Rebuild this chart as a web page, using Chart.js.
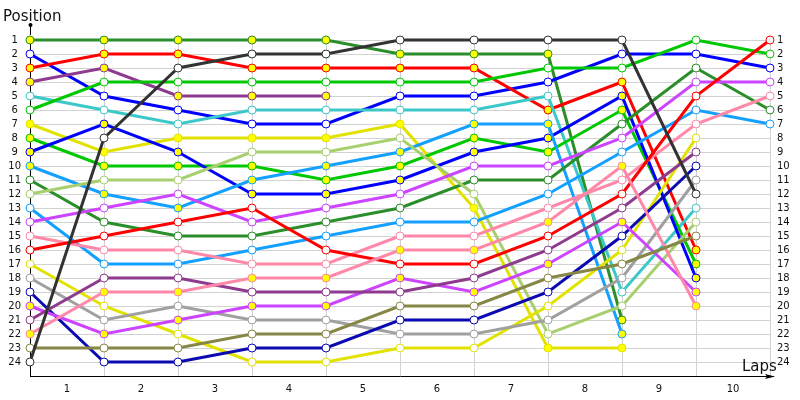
<!DOCTYPE html>
<html>
<head>
<meta charset="utf-8">
<script src="https://cdn.jsdelivr.net/npm/chart.js@4/dist/chart.umd.min.js"></script>
<style>
  html, body { margin: 0; padding: 0; background: #fff; }
</style>
</head>
<body>
<canvas id="chart" width="800" height="400"></canvas>
<script>
// column 0 is the grid, then the order after each lap
const laps = [0, 1, 2, 3, 4, 5, 6, 7, 8, 9, 10];
const lapLabels = ['1', '2', '3', '4', '5', '6', '7', '8', '9', '10'];
const positionLabels = ['1', '2', '3', '4', '5', '6', '7', '8', '9', '10', '11', '12',
  '13', '14', '15', '16', '17', '18', '19', '20', '21', '22', '23', '24'];

// positions per car, named by grid slot (short arrays = car dropped out)
const car01 = [1, 1, 1, 1, 1, 2, 2, 2, 21];
const car02 = [2, 5, 6, 7, 7, 5, 5, 4, 2, 2, 3];
const car03 = [3, 2, 2, 3, 3, 3, 3, 6, 4, 16];
const car04 = [4, 3, 5, 5, 5];
const car05 = [5, 6, 7, 6, 6, 6, 6, 5, 19, 13];
const car06 = [6, 4, 4, 4, 4, 4, 4, 3, 3, 1, 2];
const car07 = [7, 9, 8, 8, 8, 7, 13, 23, 23];
const car08 = [8, 10, 10, 10, 11, 10, 8, 9, 6, 17];
const car09 = [9, 7, 9, 12, 12, 11, 9, 8, 5, 18];
const car10 = [10, 12, 13, 11, 10, 9, 7, 7, 22];
const car11 = [11, 14, 15, 15, 14, 13, 11, 11, 7, 3, 6];
const car12 = [12, 11, 11, 9, 9, 8, 12, 22, 20, 14];
const car13 = [13, 17, 17, 16, 15, 14, 14, 12, 9, 6, 7];
const car14 = [14, 13, 12, 14, 13, 12, 10, 10, 8, 4, 4];
const car15 = [15, 16, 16, 17, 17, 15, 15, 13, 11, 7, 5];
const car16 = [16, 15, 14, 13, 16, 17, 17, 15, 12, 5, 1];
const car17 = [17, 20, 22, 24, 24, 23, 23, 20, 16, 8];
const car18 = [18, 21, 20, 21, 21, 22, 22, 21, 18, 11];
const car19 = [19, 24, 24, 23, 23, 21, 21, 19, 15, 10];
const car20 = [20, 22, 21, 20, 20, 18, 19, 17, 14, 19];
const car21 = [21, 18, 18, 19, 19, 19, 18, 16, 13, 9];
const car22 = [22, 19, 19, 18, 18, 16, 16, 14, 10, 20];
const car23 = [23, 23, 23, 22, 22, 20, 20, 18, 17, 15];
const car24 = [24, 8, 3, 2, 2, 1, 1, 1, 1, 12];

const cars = [car01, car02, car03, car04, car05, car06, car07, car08, car09, car10, car11, car12,
  car13, car14, car15, car16, car17, car18, car19, car20, car21, car22, car23, car24];

// line colour and marker fill for each car
const lineColors = ['#2a8f2a', '#0000ff', '#ff0000', '#8e3a8e', '#3cc8c8', '#00c800',
  '#e2e200', '#00c800', '#0000ff', '#14a0ff', '#2a8f2a', '#a8cf6e',
  '#14a0ff', '#cc44ff', '#ff88a8', '#ff0000', '#e2e200', '#a0a0a0',
  '#0a0ab0', '#cc44ff', '#8e3a8e', '#ff88a8', '#868646', '#333333'];
const markerFills = ['#ffff00', '#ffffff', '#ffff00', '#ffff00', '#ffffff', '#ffffff',
  '#ffff00', '#ffff00', '#ffff00', '#ffff00', '#ffffff', '#ffffff',
  '#ffffff', '#ffffff', '#ffffff', '#ffffff', '#ffffff', '#ffffff',
  '#ffffff', '#ffff00', '#ffffff', '#ffff00', '#ffffff', '#ffffff'];

const tickFont = { family: 'DejaVu Sans', size: 10 };
const gridColor = '#d2d2d2';

// later cars drawn on top (chart.js paints dataset 0 last)
const datasets = cars.map((arr, i) => ({
  data: arr.map((p, lap) => ({ x: laps[lap], y: p })),
  borderColor: lineColors[i],
  backgroundColor: lineColors[i],
  borderWidth: 3,
  pointRadius: 4,
  pointBorderWidth: 1,
  pointBorderColor: lineColors[i],
  pointBackgroundColor: markerFills[i],
  tension: 0,
  clip: false,
  yAxisID: 'y'
})).reverse();

// axis arrows and the two axis captions
const axisDecor = {
  id: 'axisDecor',
  afterDraw(chart) {
    const ctx = chart.ctx;
    const a = chart.chartArea;
    ctx.save();
    ctx.strokeStyle = '#000';
    ctx.fillStyle = '#000';
    ctx.lineWidth = 1;
    ctx.beginPath();
    ctx.moveTo(a.left + 0.5, a.top - 5);
    ctx.lineTo(a.left + 0.5, 25);
    ctx.moveTo(a.right, a.bottom + 0.5);
    ctx.lineTo(a.right + 4, a.bottom + 0.5);
    ctx.stroke();
    ctx.beginPath();
    ctx.arc(a.left + 0.5, 25, 2, 0, Math.PI * 2);
    ctx.fill();
    ctx.beginPath();
    ctx.moveTo(a.right + 5, a.bottom + 0.5);
    ctx.lineTo(a.right - 5, a.bottom - 2);
    ctx.lineTo(a.right - 3, a.bottom + 0.5);
    ctx.lineTo(a.right - 5, a.bottom + 3);
    ctx.closePath();
    ctx.fill();

    ctx.fillStyle = '#111';
    ctx.font = '15px "DejaVu Sans"';
    ctx.textBaseline = 'alphabetic';
    ctx.textAlign = 'left';
    ctx.fillText('Position', 3, 21);
    ctx.fillText('Laps', 742, 371);
    ctx.restore();
  }
};

new Chart(document.getElementById('chart'), {
  type: 'line',
  data: { datasets: datasets },
  plugins: [axisDecor],
  options: {
    responsive: false,
    animation: false,
    layout: { padding: { top: 40, left: 0, right: 0, bottom: 0 } },
    plugins: {
      legend: { display: false },
      tooltip: { enabled: false }
    },
    scales: {
      x: {
        type: 'linear',
        min: 0,
        max: 10,
        afterFit: s => { s.height = 24; },
        border: { color: '#000' },
        grid: {
          drawTicks: false,
          color: c => Math.abs(c.tick.value - Math.round(c.tick.value)) < 1e-6 ? gridColor : 'rgba(0,0,0,0)'
        },
        ticks: {
          stepSize: 0.5,
          autoSkip: false,
          maxRotation: 0,
          padding: 7,
          color: '#111',
          font: tickFont,
          callback: v => Math.abs(v - Math.round(v)) < 1e-6 ? '' : lapLabels[Math.floor(v)]
        }
      },
      y: {
        type: 'linear',
        position: 'left',
        reverse: true,
        min: 1,
        max: 25,
        afterFit: s => { s.width = 30; },
        border: { color: '#000' },
        grid: {
          drawTicks: false,
          color: c => c.tick.value <= 24 ? gridColor : 'rgba(0,0,0,0)'
        },
        ticks: {
          stepSize: 1,
          autoSkip: false,
          padding: 9,
          crossAlign: 'center',
          color: '#111',
          font: tickFont,
          callback: v => v <= 24 ? positionLabels[v - 1] : ''
        }
      },
      y2: {
        type: 'linear',
        position: 'right',
        reverse: true,
        min: 1,
        max: 25,
        afterFit: s => { s.width = 30; },
        border: { display: false },
        grid: { display: false, drawTicks: false },
        ticks: {
          stepSize: 1,
          autoSkip: false,
          padding: 7,
          color: '#111',
          font: tickFont,
          callback: v => v <= 24 ? positionLabels[v - 1] : ''
        }
      }
    }
  }
});
</script>
</body>
</html>
